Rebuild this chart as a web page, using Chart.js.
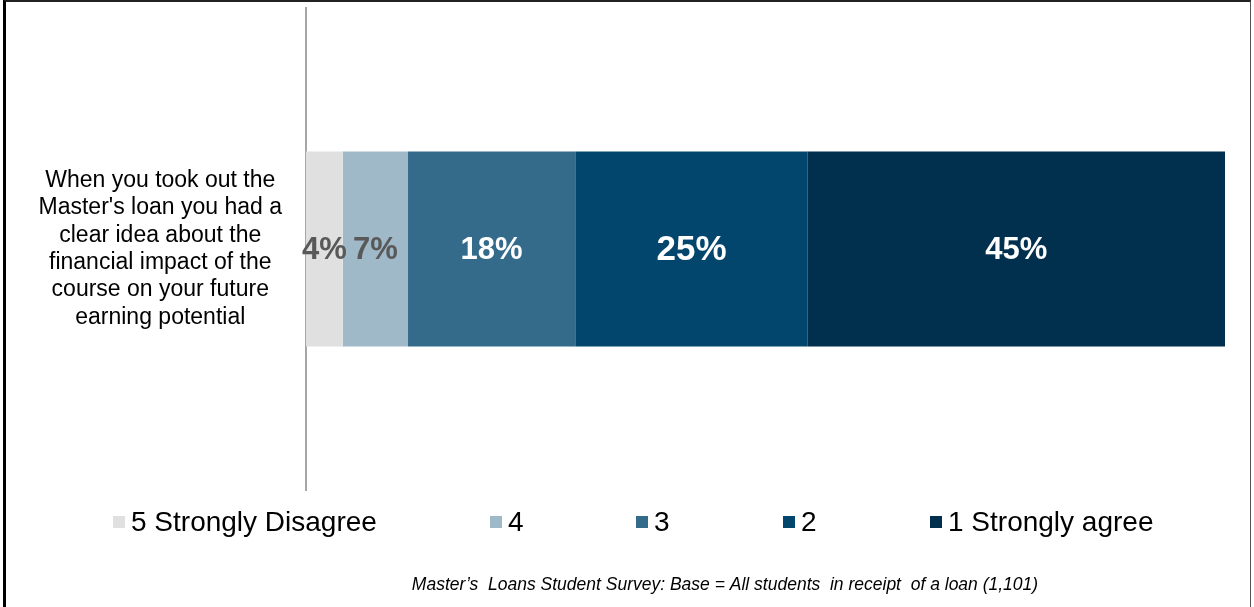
<!DOCTYPE html>
<html>
<head>
<meta charset="utf-8">
<script src="https://cdn.jsdelivr.net/npm/chart.js@4.4.1/dist/chart.umd.min.js"></script>
<style>
  html, body { margin: 0; padding: 0; background: #fff; }
  #wrap { position: absolute; left: 0; top: 0; width: 1254px; height: 607px; overflow: hidden; }
  #frame { position: absolute; left: 3px; top: 0; width: 1248px; height: 620px;
           border-left: 3px solid #000; border-top: 2px solid #222; border-right: 1px solid #555; box-sizing: border-box; pointer-events: none; }
  canvas { position: absolute; left: 0; top: 0; }
</style>
</head>
<body>
<div id="wrap">
  <canvas id="c" width="1254" height="607"></canvas>
  <div id="frame"></div>
</div>
<script>
// ---- data ----
const categories = [["When you took out the", "Master's loan you had a", "clear idea about the", "financial impact of the", "course on your future", "earning potential"]];
const seriesLabels = ["5 Strongly Disagree", "4", "3", "2", "1 Strongly agree"];
const seriesValues = [4.0, 7.1, 18.2, 25.3, 45.4];
const seriesColors = ["#e0e0e0", "#9fb9c8", "#346b8b", "#02466d", "#00304d"];
const labelColors = ["#595959", "#595959", "#ffffff", "#ffffff", "#ffffff"];
const labelSizes = [31, 31, 31, 35, 31];
const footnote = "Master\u2019s  Loans Student Survey: Base = All students  in receipt  of a loan (1,101)";

const FONT = "'Liberation Sans', Arial, sans-serif";

const datasets = seriesLabels.map((lab, i) => ({
  label: lab,
  data: [seriesValues[i]],
  backgroundColor: seriesColors[i],
  borderWidth: 0,
  barPercentage: 0.405,
  categoryPercentage: 1.0
}));

const valueLabels = {
  id: 'valueLabels',
  afterDatasetsDraw(chart) {
    const ctx = chart.ctx;
    chart.data.datasets.forEach((ds, i) => {
      const meta = chart.getDatasetMeta(i);
      meta.data.forEach((el, j) => {
        const v = ds.data[j];
        const cx = (el.x + el.base) / 2;
        ctx.save();
        ctx.font = "bold " + labelSizes[i] + "px " + FONT;
        ctx.fillStyle = labelColors[i];
        ctx.textAlign = "center";
        ctx.textBaseline = "middle";
        ctx.fillText(Math.round(v) + "%", cx, el.y + 1);
        ctx.restore();
      });
    });
  }
};

const customLegend = {
  id: 'customLegend',
  afterDraw(chart) {
    const ctx = chart.ctx;
    const items = chart.legend.legendItems || [];
    const starts = [113, 490, 636, 783, 930];
    const y = 522;
    ctx.save();
    ctx.font = "28px " + FONT;
    ctx.textBaseline = "middle";
    ctx.textAlign = "left";
    items.forEach((it, i) => {
      const x = starts[i];
      ctx.fillStyle = it.fillStyle;
      ctx.fillRect(x, y - 6, 12, 12);
      ctx.fillStyle = "#000";
      ctx.fillText(it.text, x + 18, y + 1);
    });
    ctx.font = "italic 17.5px " + FONT;
    ctx.textAlign = "center";
    ctx.fillStyle = "#000";
    ctx.fillText(footnote, 725, 585);
    ctx.restore();
  }
};

new Chart(document.getElementById('c'), {
  type: 'bar',
  data: { labels: categories, datasets },
  options: {
    indexAxis: 'y',
    responsive: false,
    animation: false,
    layout: { autoPadding: false, padding: { top: 8, bottom: 117, right: 29, left: 0 } },
    plugins: {
      legend: { display: false },
      tooltip: { enabled: false }
    },
    scales: {
      x: {
        stacked: true, min: 0, max: 100, display: false
      },
      y: {
        stacked: true,
        grid: { display: false, drawTicks: false },
        border: { display: true, color: "#a6a6a6", width: 2 },
        ticks: {
          crossAlign: 'center',
          padding: 24,
          color: "#000",
          font: { family: FONT, size: 23, lineHeight: 1.19 }
        },
        afterFit(scale) { scale.width = 306; scale.paddingTop = 0; scale.paddingBottom = 0; }
      }
    }
  },
  plugins: [valueLabels, customLegend]
});
</script>
</body>
</html>
